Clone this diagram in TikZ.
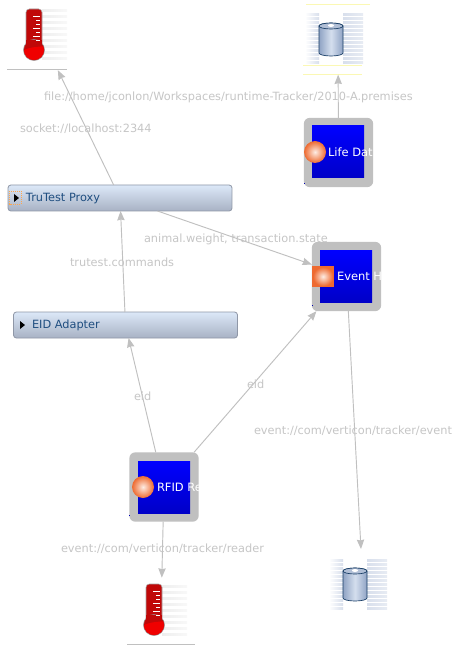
\documentclass[tikz,border=0pt]{standalone}
\usepackage{fontspec}
\setmainfont{DejaVu Sans}
\usetikzlibrary{arrows.meta}
\definecolor{conn}{HTML}{C0C0C0}
\definecolor{lab}{HTML}{C6C6C6}
\definecolor{adtext}{HTML}{1F4E80}
\definecolor{adtop}{HTML}{DCE8F8}
\definecolor{adbot}{HTML}{A8B2C4}
\definecolor{cylside}{HTML}{8FA3C4}
\definecolor{cylmid}{HTML}{D5DFEE}
\definecolor{blueb}{HTML}{0000FF}
\definecolor{bluec}{HTML}{0000C8}
\definecolor{stripe}{HTML}{EEEEEE}
\definecolor{dbstripe}{HTML}{D8DFEC}
\definecolor{tube}{HTML}{C00808}
\definecolor{bulb}{HTML}{F00000}
\definecolor{paleyellow}{HTML}{FBF8B4}
\definecolor{ballout}{HTML}{EE6A30}
\definecolor{ballin}{HTML}{FDEDE4}
\tikzset{
  hole/.style={inner sep=0pt,outer sep=0pt},
  adapter/.style={hole,rounded corners=2.2pt,draw=adbot!85!black,line width=0.6pt,top color=adtop,bottom color=adbot,minimum height=19.5pt,minimum width=168pt},
  adlabel/.style={font=\fontsize{8.5pt}{10pt}\selectfont,text=adtext,anchor=west,hole},
  edgelabel/.style={font=\fontsize{8.5pt}{10pt}\selectfont,text=lab,anchor=west,hole},
  unit/.style={hole,fill=conn,rounded corners=4.5pt,minimum width=52pt,minimum height=52pt},
  inner/.style={hole,top color=blueb,bottom color=bluec,minimum width=39pt,minimum height=39pt},
  unitlabel/.style={font=\fontsize{8.6pt}{10pt}\selectfont,text=white,anchor=west,hole},
  link/.style={draw=conn,line width=0.7pt,-{Stealth[length=7pt,width=5.5pt,inset=0.6pt]}},
  imagebox/.style={hole,minimum width=58.5pt,minimum height=49pt},
}
\newcommand{\thermo}[2]{%
  \begin{scope}[shift={(#1,#2)}]
    \foreach \sy in {0,6,...,48} {\shade[left color=stripe,right color=stripe!40!white] (42,10+\sy) rectangle (67,12+\sy);}
    \fill[tube,rounded corners=2.5pt,draw=black!35,line width=0.4pt] (26,9) rectangle (42,46);
    \fill[tube,draw=black!40,line width=0.4pt] (34,50) circle [radius=10.5];
    \fill[tube] (26.3,40) rectangle (41.7,47);
    \begin{scope}
      \clip (34,50) circle [radius=10];
      \fill[bulb] (20,52) .. controls (28,47) and (36,47) .. (46,46) -- (46,62) -- (20,62) -- cycle;
    \end{scope}
    \foreach \ty/\tx in {17/33,21/36,25/36,29/33,33/36,37/33,41/36}{\fill[white] (\tx,\ty-1) rectangle (40,\ty+0.2);}
  \end{scope}}
\newcommand{\dbcyl}[2]{%
  \begin{scope}[shift={(#1,#2)}]
    \foreach \sy in {0,4,...,48} {\shade[left color=white,right color=dbstripe] (-14,\sy) rectangle (0,\sy+2);
      \shade[left color=dbstripe,right color=dbstripe!60!white] (24,\sy) rectangle (44,\sy+2);}
    \path[draw=adtext!80!black,line width=0.5pt,left color=cylside,right color=cylside,middle color=cylmid] (0,12) -- (0,39) arc[start angle=180,end angle=0,x radius=12,y radius=3] -- (24,12) arc[start angle=0,end angle=-180,x radius=12,y radius=3];
    \path[draw=adtext!80!black,line width=0.5pt,fill=cylside!70!white] (12,12) ellipse [x radius=12,y radius=3];
    \fill[white] (12,11.5) ellipse [x radius=3,y radius=1.5];
  \end{scope}}
\newcommand{\sphereat}[2]{\shade[inner color=ballin,outer color=ballout] (#1,#2) circle [radius=11];}
\begin{document}
\begin{tikzpicture}[x=0.75pt,y=-0.75pt]
\useasboundingbox (0,0) rectangle (455,645);
\fill[white] (0,0) rectangle (455,645);

% invisible frames of the image figures
\node[imagebox,minimum width=58.5pt,minimum height=49pt] (thermoA) at (42,37.5) {};
\node[imagebox,minimum width=45pt,minimum height=52pt] (dbA) at (338,40) {};
\node[imagebox,minimum width=55pt,minimum height=57pt] (dbB) at (363,587) {};
\node[imagebox,minimum width=54pt,minimum height=50pt] (thermoB) at (161,611) {};

% image figures
\thermo{0}{0}
\thermo{120}{575}
\draw[conn,line width=0.6pt] (7,69.5) -- (67,69.5);
\draw[conn,line width=0.6pt] (127,644) -- (195,644);
\dbcyl{319}{14}
\dbcyl{343}{559}
\draw[paleyellow,line width=0.6pt] (306,4.5) -- (370,4.5);
\draw[paleyellow,line width=0.6pt] (303,65.5) -- (362,65.5);
\draw[paleyellow,line width=0.6pt] (303,74.5) -- (362,74.5);

% adapters
\node[adapter] (trutest) at (120,198) {};
\node[adapter] (eidadapter) at (125.5,325) {};
\node[adlabel] (trutestlabel) at (26,198.5) {TruTest Proxy};
\node[adlabel] (eidlabel) at (32,325.5) {EID Adapter};
\fill[black] (14,194) -- (19,198) -- (14,202) -- cycle;
\fill[black] (20,321) -- (25,325) -- (20,329) -- cycle;
\draw[orange!70!white,line width=0.5pt,densely dotted] (9.5,191.5) rectangle (21,204);

% units
\node[unit] (life) at (338.5,152.5) {};
\node[inner] (lifeinner) at (338,152) {};
\node[unit] (event) at (346.5,276.5) {};
\node[inner] (eventinner) at (346,276) {};
\node[unit] (rfid) at (164,487) {};
\node[inner] (rfidinner) at (164,487) {};
\begin{scope}
  \clip (304,118) rectangle (373,187);
  \node[unitlabel] (lifelabel) at (328,152.5) {Life Dat};
\end{scope}
\begin{scope}
  \clip (312,242) rectangle (381,311);
  \node[unitlabel] (eventlabel) at (337,276.5) {Event H};
\end{scope}
\begin{scope}
  \clip (129,452) rectangle (199,522);
  \node[unitlabel] (rfidlabel) at (157,487.5) {RFID Re};
\end{scope}
\sphereat{315}{152}
\sphereat{143}{487}
\fill[ballout] (312,266) rectangle (334,287);
\shade[inner color=ballin,outer color=ballout] (313,267) rectangle (333,286);
\fill[blue!70!black] (303.5,183.5) rectangle (304.5,184.5);
\fill[blue!70!black] (311.5,304.5) rectangle (312.5,305.5);
\fill[blue!70!black] (129,514.5) rectangle (130,515.5);

% connectors
\draw[link] (trutest) -- (thermoA);
\draw[link] (eidadapter) -- (trutest);
\draw[link] (trutest) -- (event);
\draw[link] (rfid) -- (eidadapter);
\draw[link] (rfid) -- (event);
\draw[link] (life) -- (dbA);
\draw[link] (event) -- (dbB);
\draw[link] (rfid) -- (thermoB);

% connector labels
\node[edgelabel] (filelabel) at (44,97) {file://home/jconlon/Workspaces/runtime-Tracker/2010-A.premises};
\node[edgelabel] (socketlabel) at (20,129) {socket://localhost:2344};
\node[edgelabel] (statelabel) at (144,239) {animal.weight, transaction.state};
\node[edgelabel] (cmdlabel) at (70,262) {trutest.commands};
\node[edgelabel] (eidA) at (134,396) {eid};
\node[edgelabel] (eidB) at (247,384) {eid};
\node[edgelabel] (eventurl) at (254,431) {event://com/verticon/tracker/event};
\node[edgelabel] (readerurl) at (61,549) {event://com/verticon/tracker/reader};
\end{tikzpicture}
\end{document}
